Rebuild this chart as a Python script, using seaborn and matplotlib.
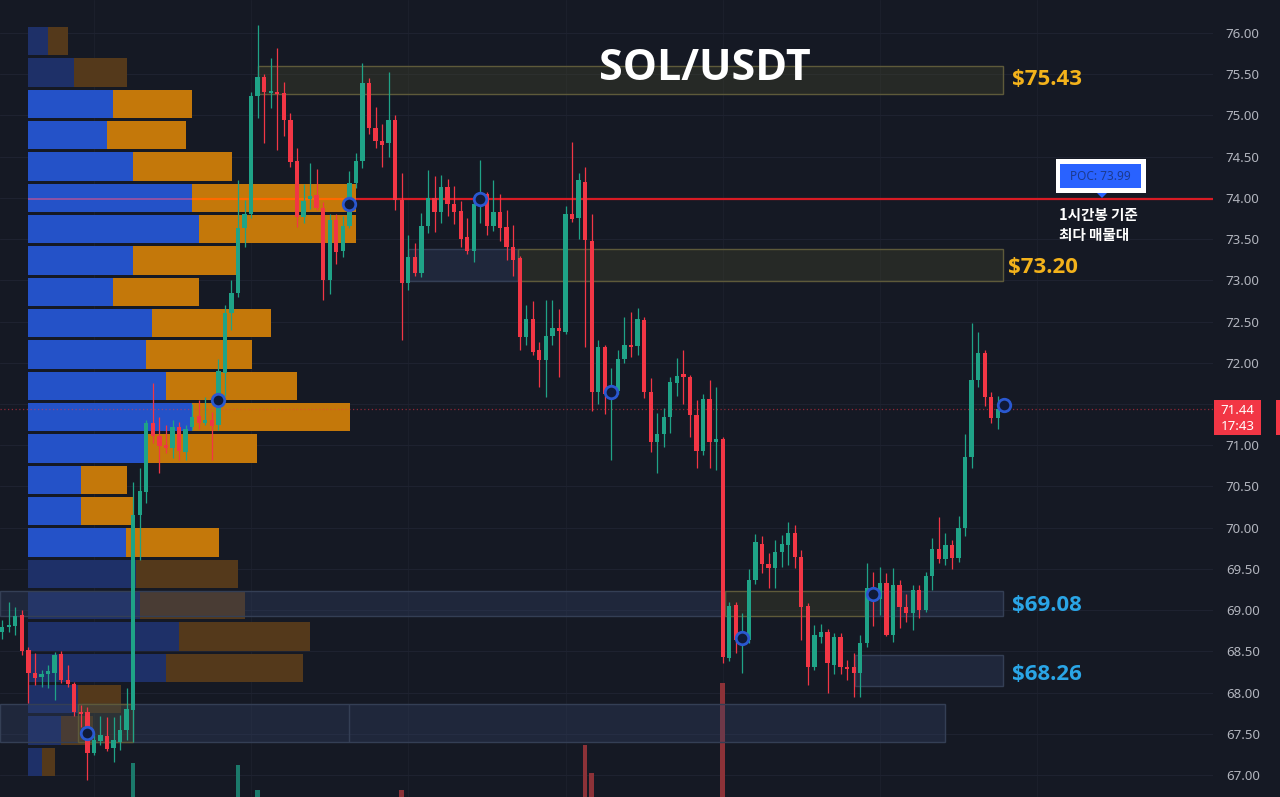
import numpy as np
import pandas as pd
import matplotlib
matplotlib.use("Agg")
import matplotlib.pyplot as plt
from matplotlib.patches import Rectangle, Polygon
import seaborn as sns

# ---------------- data ----------------
opens = [68.74,68.79,68.81,68.94,68.52,68.24,68.19,68.22,68.24,68.47,
68.15,68.10,67.77,67.76,67.27,67.41,67.47,67.33,67.40,67.55,
67.79,70.15,70.43,71.27,71.11,70.99,70.97,71.22,70.92,71.22,
71.35,71.27,71.30,71.24,71.88,72.60,72.85,73.63,73.80,75.24,
75.47,75.27,75.29,75.27,74.94,74.45,73.77,73.99,74.03,73.88,
73.00,73.73,73.36,73.66,74.18,74.45,75.39,74.85,74.69,74.66,
74.94,73.98,72.97,73.28,73.09,73.66,74.00,73.83,74.13,73.93,
73.84,73.52,73.36,73.93,74.05,73.66,73.83,73.65,73.41,73.27,
72.31,72.53,72.15,72.03,72.32,72.42,72.37,73.80,73.76,74.19,
73.48,71.65,72.19,71.62,71.66,72.05,72.22,72.20,72.52,71.64,
71.04,71.13,71.34,71.76,71.85,71.83,71.37,70.93,71.56,71.04,
71.07,68.42,69.06,68.64,68.64,69.36,69.80,69.56,69.51,69.70,
69.79,69.93,69.64,69.05,68.31,68.67,68.73,68.33,68.67,68.31,
68.31,68.24,68.60,69.25,69.14,69.33,68.70,69.30,69.04,68.96,
69.24,69.00,69.41,69.74,69.62,69.79,69.63,69.99,70.86,71.79,
72.12,71.58,71.33]

highs = [68.88,69.10,69.04,69.00,68.55,68.48,68.27,68.33,68.49,68.50,
68.33,68.13,67.85,67.82,67.51,67.72,67.70,67.70,67.73,68.06,
70.55,70.72,71.31,71.75,71.34,71.25,71.30,71.28,71.24,71.50,
71.55,71.58,71.40,72.05,72.70,73.00,74.22,73.97,75.28,76.10,
75.50,75.70,75.82,75.40,75.03,74.60,74.17,74.42,74.35,73.95,
73.80,73.80,73.78,74.32,74.55,75.64,75.45,75.10,74.90,75.53,
75.00,74.30,73.55,73.45,73.82,74.34,74.26,74.28,74.23,74.15,
73.96,73.76,73.96,74.46,74.07,74.22,74.05,73.85,73.67,73.30,
72.70,72.75,72.25,72.76,72.76,72.65,73.90,74.68,74.30,74.38,
73.80,72.27,72.22,71.94,72.15,72.55,72.62,72.66,72.55,71.82,
71.39,71.45,71.83,72.06,72.15,71.85,71.55,71.62,71.79,71.71,
71.10,69.10,69.10,68.96,69.50,69.92,69.90,69.69,69.85,69.91,
70.07,70.03,69.73,69.09,68.82,68.83,68.77,68.72,68.72,68.39,
68.48,68.70,69.57,69.46,69.52,69.45,69.51,69.36,69.20,69.30,
69.30,69.46,69.88,70.13,69.93,69.85,70.14,71.14,72.48,72.37,
72.15,71.65,71.60]

lows = [68.65,68.73,68.70,68.45,67.87,68.09,68.07,68.06,67.91,68.12,
68.07,67.72,67.58,66.94,67.24,67.36,67.29,67.16,67.30,67.42,
67.40,69.61,70.30,71.03,70.66,70.90,70.85,70.82,70.82,71.18,
71.20,71.24,70.82,71.18,71.60,72.40,72.80,73.40,73.75,74.97,
74.67,75.09,74.58,74.75,74.38,73.65,73.70,73.86,73.85,72.76,
72.84,73.20,73.28,73.64,74.12,74.36,74.78,74.60,74.38,74.50,
73.85,72.28,72.88,73.05,73.04,73.57,73.58,73.70,73.78,73.68,
73.40,73.32,73.22,73.70,73.55,73.60,73.48,73.25,73.05,72.15,
72.22,72.10,71.70,71.58,72.22,71.83,72.35,73.71,73.50,72.19,
71.42,71.50,71.38,70.82,71.62,72.00,72.07,72.10,71.57,70.92,
70.66,70.98,71.15,71.60,71.50,71.10,70.72,70.88,70.72,70.70,
68.36,68.38,68.48,68.24,68.60,69.32,69.45,69.27,69.27,69.52,
69.55,69.51,68.64,68.09,68.27,68.60,67.99,68.22,68.22,68.15,
67.95,67.94,68.55,68.81,68.94,68.68,68.61,68.78,68.86,68.76,
68.90,68.98,69.24,69.57,69.55,69.50,69.58,69.90,70.72,71.70,
71.48,71.27,71.20]

closes = [68.80,68.82,68.93,68.50,68.24,68.18,68.23,68.26,68.46,68.15,
68.10,67.77,67.74,67.27,67.42,67.48,67.31,67.42,67.55,67.80,
70.15,70.44,71.27,71.11,70.99,70.97,71.22,70.93,71.20,71.34,
71.27,71.31,71.23,71.90,72.60,72.85,73.63,73.80,75.24,75.47,
75.28,75.29,75.26,74.94,74.43,73.77,73.96,74.02,73.88,73.00,
73.73,73.34,73.66,74.18,74.45,75.39,74.85,74.69,74.64,74.94,
73.98,72.97,73.28,73.09,73.66,74.00,73.83,74.13,73.93,73.83,
73.50,73.36,73.93,73.97,73.66,73.83,73.63,73.41,73.25,72.31,
72.53,72.13,72.03,72.32,72.42,72.38,73.80,73.74,74.22,73.49,
71.65,72.19,71.62,71.66,72.05,72.22,72.19,72.53,71.64,71.04,
71.13,71.34,71.77,71.84,71.83,71.37,70.93,71.56,71.04,71.07,
68.43,69.05,68.64,68.66,69.36,69.83,69.56,69.51,69.70,69.80,
69.93,69.64,69.04,68.31,68.70,68.73,68.36,68.67,68.31,68.28,
68.24,68.60,69.27,69.20,69.33,68.70,69.30,69.04,68.96,69.24,
69.00,69.41,69.74,69.62,69.79,69.63,69.99,70.86,71.79,72.12,
71.58,71.33,71.44]

# visible volume spikes (bottom pane, K SOL)
vol_idx = [20, 36, 39, 61, 89, 90, 110]
vol_val = [94, 92, 67, 67, 112, 84, 174]
vol_dir = ["up", "up", "up", "down", "down", "down", "down"]

# volume profile rows
profile_price = [75.90, 75.52, 75.14, 74.76, 74.38, 74.00, 73.62, 73.24, 72.86, 72.48,
                 72.10, 71.72, 71.34, 70.96, 70.58, 70.20, 69.82, 69.44, 69.06, 68.68,
                 68.30, 67.92, 67.54, 67.16]
profile_up = [20, 46, 85, 79, 105, 164, 171, 105, 85, 124, 118, 138, 164, 118, 53, 53,
              98, 108, 112, 151, 138, 50, 33, 14]
profile_down = [20, 53, 79, 79, 99, 164, 157, 104, 86, 119, 106, 131, 158, 111, 46, 52,
                93, 102, 105, 131, 137, 43, 32, 13]
profile_in_va = [False, False] + [True] * 15 + [False] * 7
poc_price = 73.99

# zones (candle index span, price span)
zone_x0 = [39.1, 62.0, 78.8, -0.4, 110.3, 131.7, 130.2, -0.4, 11.6]
zone_x1 = [152.8, 78.8, 152.8, 110.3, 131.7, 152.8, 152.8, 144.0, 20.0]
zone_lo = [75.26, 72.99, 72.99, 68.93, 68.93, 68.93, 68.08, 67.40, 67.40]
zone_hi = [75.60, 73.38, 73.38, 69.23, 69.23, 69.23, 68.46, 67.86, 67.86]
zone_kind = ["olive", "blue", "olive", "blue", "olive", "blue", "blue", "blue", "olive"]

label_text = ["$75.43", "$73.20", "$69.08", "$68.26"]
label_price = [75.44, 73.16, 69.06, 68.22]
label_idx = [154.2, 153.6, 154.2, 154.2]
label_kind = ["gold", "gold", "blue", "blue"]

marker_idx = [13, 33, 53, 73, 93, 113, 133, 153]
marker_price = [67.51, 71.55, 73.93, 73.99, 71.65, 68.66, 69.20, 71.49]

vgrid_idx = [14, 38, 62, 86, 110, 134, 158]
price_ticks = [67.0, 67.5, 68.0, 68.5, 69.0, 69.5, 70.0, 70.5, 71.0, 71.5,
               72.0, 72.5, 73.0, 73.5, 74.0, 74.5, 75.0, 75.5, 76.0]
last_price = 71.44
last_time = "17:43"

# ---------------- style ----------------
BG = "#151924"
UP = "#1fa387"
DN = "#f23645"
sns.set_theme(style="dark", rc={"axes.facecolor": BG, "figure.facecolor": BG})
plt.rcParams["font.family"] = ["Noto Sans", "DejaVu Sans"]
BOLD_FAMILY = ["Open Sans", "Liberation Sans", "DejaVu Sans"]

W, H = 1280, 797
fig = plt.figure(figsize=(12.8, 7.97), dpi=100)
fig.patch.set_facecolor(BG)

def fx(x):
    return x / W

def fy(y):
    return 1 - y / H

rect = [0, 0, 1213 / W, 1]
axg = fig.add_axes(rect, zorder=0)
axp = fig.add_axes(rect, zorder=1)
axv = fig.add_axes(rect, zorder=2)
ax = fig.add_axes(rect, zorder=3)

YLIM = (66.733, 76.400)
XLIM = (-0.336, 184.85)

# background grid + price scale (label under the last-price tag is hidden)
axg.set_facecolor(BG)
axg.set_xlim(XLIM)
axg.set_ylim(YLIM)
axg.yaxis.tick_right()
axg.set_yticks(price_ticks)
axg.set_yticklabels(["" if abs(t - last_price) < 0.2 else f"{t:.2f}" for t in price_ticks])
axg.set_xticks(vgrid_idx)
axg.set_xticklabels([])
axg.tick_params(axis="y", length=0, pad=9.2, labelsize=9.5, labelcolor="#b2b5be")
axg.tick_params(axis="x", length=0)
axg.grid(True, axis="y", color="#1e2230", lw=0.8)
axg.grid(True, axis="x", color="#1b1f2b", lw=0.8)
for s in axg.spines.values():
    s.set_visible(False)

# volume profile
prof = pd.DataFrame({"price": profile_price, "up": profile_up,
                     "down": profile_down, "va": profile_in_va})
prof["total"] = prof["up"] + prof["down"]
pal = {True: ("#2452c8", "#c4780a"), False: ("#1e3068", "#54391b")}
for va, (cb, co) in pal.items():
    sub = prof[prof["va"] == va]
    sns.barplot(data=sub, x="total", y="price", orient="y", native_scale=True,
                color=co, saturation=1, width=0.9, linewidth=0, errorbar=None, ax=axp)
    sns.barplot(data=sub, x="up", y="price", orient="y", native_scale=True,
                color=cb, saturation=1, width=0.9, linewidth=0, errorbar=None, ax=axp)
poc_row = prof[prof["price"] == 74.00].iloc[0]
axp.hlines(poc_price, 0, poc_row["up"], color="#a2529e", lw=1.2)
axp.hlines(poc_price, poc_row["up"], poc_row["total"], color="#ff6a00", lw=1.6)
axp.hlines(poc_price, poc_row["total"], 1185, color="#d81b24", lw=1.6)
axp.set_xlim(-28, 1185)
axp.set_ylim(YLIM)
axp.set_axis_off()

# volume bars
vol = pd.DataFrame({"idx": vol_idx, "vol": vol_val, "dir": vol_dir})
sns.barplot(data=vol, x="idx", y="vol", hue="dir", native_scale=True, dodge=False,
            palette={"up": "#1b7a6b", "down": "#8c3238"}, saturation=1, width=0.7,
            linewidth=0, errorbar=None, legend=False, ax=axv)
axv.set_xlim(XLIM)
axv.set_ylim(60, 857)
axv.set_axis_off()

# zones
zcol = {"olive": ("#4a4a2c", "#5e5a3a"), "blue": ("#34456a", "#343f55")}
for x0, x1, lo, hi, k in zip(zone_x0, zone_x1, zone_lo, zone_hi, zone_kind):
    fc, ec = zcol[k]
    ax.add_patch(Rectangle((x0, lo), x1 - x0, hi - lo, facecolor=fc, alpha=0.33,
                           edgecolor="none", zorder=1))
    ax.add_patch(Rectangle((x0, lo), x1 - x0, hi - lo, facecolor="none",
                           edgecolor=ec, lw=1.0, zorder=1.1))
ax.vlines(53, 67.40, 67.86, color="#343f55", lw=1.0, zorder=1.1)

# current price dotted line
ax.axhline(last_price, color=DN, lw=0.9, ls=(0, (1, 2)), alpha=0.55, zorder=1.5)

# candles
o = np.array(opens); h = np.array(highs); l = np.array(lows); c = np.array(closes)
idx = np.arange(len(o))
cols = np.where(c >= o, UP, DN)
ax.vlines(idx, l, h, colors=cols, lw=0.9, zorder=2)
ax.bar(idx, np.maximum(np.abs(c - o), 0.03), bottom=np.minimum(o, c), width=0.66,
       color=cols, linewidth=0, zorder=3)

# circle markers
ax.plot(marker_idx, marker_price, "o", ms=9, mfc="#101a38", mec="#2a58d0", mew=2.0,
        zorder=4, clip_on=False)

# level labels
lcol = {"gold": "#f3b21b", "blue": "#2aa5e6"}
for t, p, xi, k in zip(label_text, label_price, label_idx, label_kind):
    ax.text(xi, p, t, color=lcol[k], fontsize=16, fontweight="bold", ha="left",
            va="center", family=BOLD_FAMILY, zorder=5)

ax.set_xlim(XLIM)
ax.set_ylim(YLIM)
ax.set_axis_off()

# title
fig.text(fx(705), fy(68), "SOL/USDT", color="white", fontsize=31, fontweight="bold",
         ha="center", va="center", family=BOLD_FAMILY, zorder=10)

# POC box
fig.patches.append(Rectangle((fx(1056), fy(193)), 90 / W, 34 / H, facecolor="white",
                             edgecolor="none", transform=fig.transFigure, figure=fig, zorder=10))
fig.patches.append(Rectangle((fx(1060), fy(188)), 81 / W, 24 / H, facecolor="#2962ff",
                             edgecolor="none", transform=fig.transFigure, figure=fig, zorder=11))
fig.patches.append(Polygon([(fx(1097), fy(193)), (fx(1107), fy(193)), (fx(1102), fy(198))],
                           closed=True, facecolor="#2962ff", edgecolor="none",
                           transform=fig.transFigure, figure=fig, zorder=11))
fig.text(fx(1100.5), fy(176.5), f"POC: {poc_price:.2f}", color="#1c3a8f", fontsize=8.5,
         ha="center", va="center", zorder=12)
fig.text(fx(1059), fy(207), "1시간봉 기준\n최다 매물대", color="white", fontsize=10.5,
         fontweight="bold", ha="left", va="top", linespacing=1.3,
         family=["Noto Sans CJK KR", "DejaVu Sans"], zorder=12)

# last price tag
fig.patches.append(Rectangle((fx(1214), fy(435)), 47 / W, 35 / H, facecolor=DN,
                             edgecolor="none", transform=fig.transFigure, figure=fig, zorder=10))
fig.patches.append(Rectangle((fx(1276), fy(435)), 4 / W, 35 / H, facecolor=DN,
                             edgecolor="none", transform=fig.transFigure, figure=fig, zorder=10))
fig.text(fx(1237.5), fy(410), f"{last_price:.2f}", color="white", fontsize=9.5,
         ha="center", va="center", zorder=12)
fig.text(fx(1237.5), fy(426), last_time, color="white", fontsize=9.5,
         ha="center", va="center", zorder=12)

fig.savefig("out.png", dpi=100, facecolor=BG)
